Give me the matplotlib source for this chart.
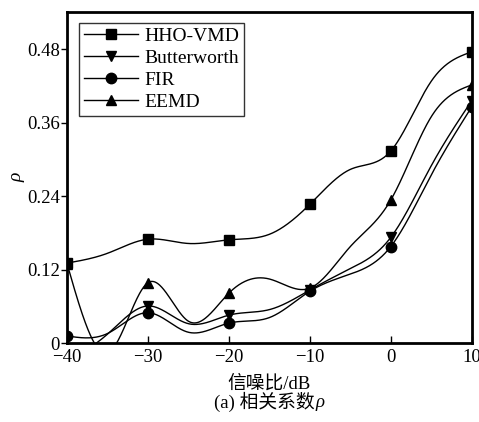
import numpy as np
import matplotlib
matplotlib.use("Agg")
import matplotlib.pyplot as plt

snr = [-40, -35, -30, -25, -20, -15, -10, -5, 0, 5, 10]
hho_vmd = [0.131, 0.147, 0.170, 0.163, 0.169, 0.178, 0.227, 0.284, 0.314, 0.428, 0.476]
butterworth = [-0.030, 0.015, 0.061, 0.032, 0.046, 0.055, 0.087, 0.122, 0.173, 0.290, 0.396]
fir = [0.012, 0.016, 0.050, 0.018, 0.033, 0.042, 0.085, 0.113, 0.158, 0.275, 0.386]
eemd = [0.130, -0.016, 0.099, 0.036, 0.082, 0.105, 0.090, 0.158, 0.234, 0.370, 0.422]

series = [("HHO-VMD", hho_vmd, "s", 6.5),
          ("Butterworth", butterworth, "v", 7.5),
          ("FIR", fir, "o", 7.5),
          ("EEMD", eemd, "^", 7.5)]

xticks = [-40, -30, -20, -10, 0, 10]
xticklabels = ["\u221240", "\u221230", "\u221220", "\u221210", "0", "10"]
yticks = [0, 0.12, 0.24, 0.36, 0.48]
yticklabels = ["0", "0.12", "0.24", "0.36", "0.48"]


def natural_spline(x, y, xs):
    x = np.asarray(x, float); y = np.asarray(y, float)
    n = len(x)
    h = np.diff(x)
    A = np.zeros((n, n)); b = np.zeros(n)
    A[0, 0] = 1; A[-1, -1] = 1
    for i in range(1, n - 1):
        A[i, i - 1] = h[i - 1]
        A[i, i] = 2 * (h[i - 1] + h[i])
        A[i, i + 1] = h[i]
        b[i] = 3 * ((y[i + 1] - y[i]) / h[i] - (y[i] - y[i - 1]) / h[i - 1])
    c = np.linalg.solve(A, b)
    out = np.empty_like(xs)
    for k, xv in enumerate(xs):
        i = min(max(np.searchsorted(x, xv) - 1, 0), n - 2)
        dx = xv - x[i]
        bi = (y[i + 1] - y[i]) / h[i] - h[i] * (2 * c[i] + c[i + 1]) / 3
        di = (c[i + 1] - c[i]) / (3 * h[i])
        out[k] = y[i] + bi * dx + c[i] * dx ** 2 + di * dx ** 3
    return out


serif = ["Liberation Serif", "Noto Sans CJK SC"]
plt.rcParams["font.family"] = serif

fig = plt.figure(figsize=(4.79, 4.22), dpi=100)
ax = fig.add_axes([0.140, 0.1865, 0.8448, 0.785])

xs = np.linspace(-40, 10, 800)
for name, vals, mk, ms in series:
    ys = natural_spline(snr, vals, xs)
    ax.plot(xs, ys, color="black", lw=1.0)
    ax.plot(snr[::2], vals[::2], linestyle="none", marker=mk, ms=ms,
            color="black", clip_on=True)
    ax.plot([], [], color="black", lw=1.0, marker=mk, ms=ms, label=name)

ax.set_xlim(-40, 10)
ax.set_ylim(0, 0.541)
ax.set_xticks(xticks)
ax.set_xticklabels(xticklabels)
ax.set_yticks(yticks)
ax.set_yticklabels(yticklabels)
ax.tick_params(axis="x", direction="in", length=5, width=1, labelsize=13.5, pad=4)
ax.tick_params(axis="y", direction="out", length=4, width=1, labelsize=13.5, pad=1)
for sp in ax.spines.values():
    sp.set_linewidth(2.0)

ax.set_ylabel("ρ", fontsize=14, fontstyle="italic", labelpad=1)
ax.set_xlabel("信噪比/dB", fontsize=13.5, labelpad=7)

# caption: "(a) 相关系数" followed by italic rho, centred under the axes
fig.canvas.draw()
renderer = fig.canvas.get_renderer()
t1 = fig.text(0, 0.047, "(a) 相关系数", ha="left", va="center", fontsize=13.5)
t2 = fig.text(0, 0.047, "ρ", ha="left", va="center", fontsize=13.5, fontstyle="italic")
w1 = t1.get_window_extent(renderer).width
w2 = t2.get_window_extent(renderer).width
cx = 269.0
x0 = cx - (w1 + w2) / 2
t1.set_x(x0 / 479)
t2.set_x((x0 + w1 + 1) / 479)

leg = ax.legend(loc="upper left", bbox_to_anchor=(0.0297, 0.968), borderaxespad=0,
                fontsize=14, frameon=True, fancybox=False, edgecolor="black",
                handlelength=2.8, handletextpad=0.3, labelspacing=0.22,
                borderpad=0.25)
leg.get_frame().set_linewidth(1.0)

fig.savefig("out.png", dpi=100)
